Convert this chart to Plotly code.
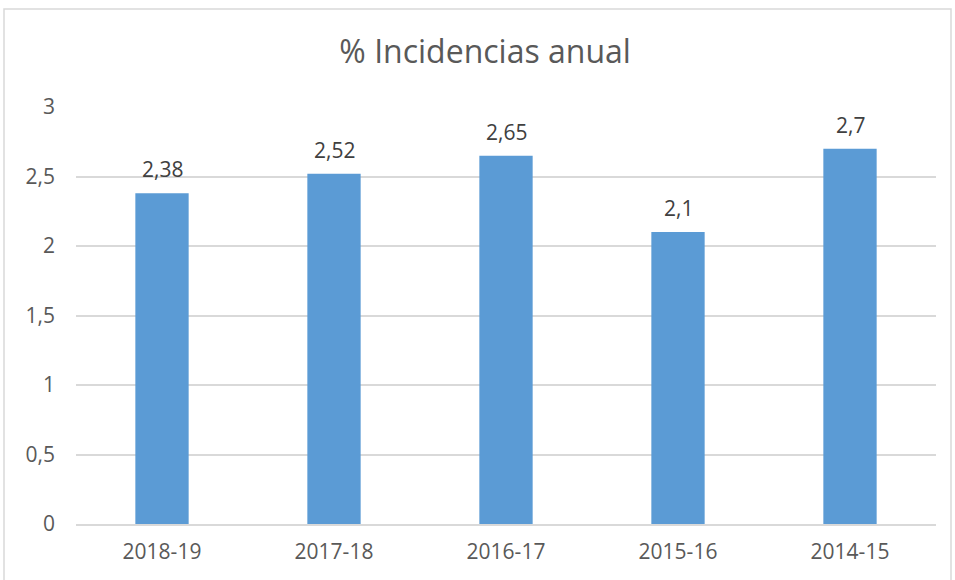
import plotly.graph_objects as go

categories = ["2018-19", "2017-18", "2016-17", "2015-16", "2014-15"]
values = [2.38, 2.52, 2.65, 2.1, 2.7]
labels = ["2,38", "2,52", "2,65", "2,1", "2,7"]
title_text = "% Incidencias anual"

W, H = 955, 580
L, R, T, B = 76, 19, 107, 56

fig = go.Figure()
fig.add_trace(go.Bar(
    x=categories, y=values,
    marker=dict(color="#5b9bd5", line=dict(width=0)),
    hoverinfo="skip",
))

for c, v, t in zip(categories, values, labels):
    fig.add_annotation(x=c, y=v, text=t, showarrow=False, yanchor="bottom",
                       yshift=8, font=dict(size=21, color="#404040", family="Open Sans"))

pw = W - L - R
ph = H - T - B
fig.add_shape(type="rect", xref="paper", yref="paper",
              x0=(4 - L) / pw, x1=(951 - L) / pw,
              y0=-(600 - (H - B)) / ph,
              y1=(H - B - 9) / ph,
              line=dict(color="#d9d9d9", width=1.5), layer="below")

fig.update_layout(
    width=W, height=H,
    margin=dict(l=L, r=R, t=T, b=B),
    paper_bgcolor="white", plot_bgcolor="white",
    separators=",.",
    bargap=0.69,
    showlegend=False,
    title=dict(text=title_text, x=0.508, xanchor="center", y=1 - 52 / H, yanchor="middle",
               font=dict(size=32, color="#595959", family="Open Sans")),
    xaxis=dict(showgrid=False, showline=True, linecolor="#d9d9d9", linewidth=1.5,
               ticks="", tickfont=dict(size=21, color="#595959", family="Open Sans"),
               ticklabelstandoff=8),
    yaxis=dict(range=[0, 3], dtick=0.5, showgrid=True, gridcolor="#d9d9d9", gridwidth=1.5,
               zeroline=False, showline=False, ticks="",
               tickfont=dict(size=21, color="#595959", family="Open Sans"),
               ticklabelstandoff=20),
)

fig.write_html("out.html",
               config={"displayModeBar": False},
               post_script="document.body.style.margin='0';document.body.style.overflow='hidden';")
